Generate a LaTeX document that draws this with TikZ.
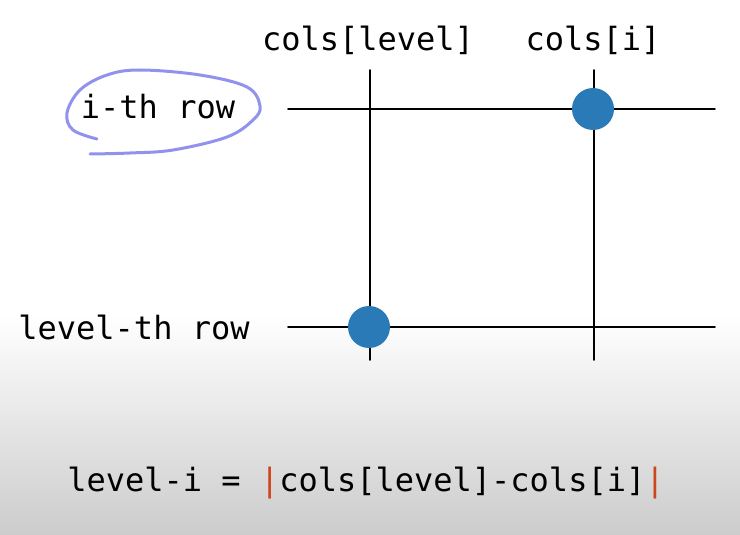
\documentclass[tikz,border=0pt]{standalone}
\usepackage{fontspec}
\setmonofont{DejaVu Sans Mono}
\usetikzlibrary{calc}
\definecolor{dotblue}{RGB}{43,122,184}
\definecolor{penblue}{RGB}{146,146,238}
\definecolor{barred}{RGB}{205,70,30}
\tikzset{
  lbl/.style={inner sep=0pt,font=\ttfamily\fontsize{32}{38}\selectfont},
  gridline/.style={draw=black,line width=1.7pt},
  hit/.style={circle,fill=dotblue,minimum size=42pt,inner sep=0pt},
  pen/.style={draw=penblue,line width=3pt}
}
\begin{document}
\begin{tikzpicture}[x=1pt,y=-1pt,line cap=round,line join=round]
  \useasboundingbox (0,0) rectangle (740,535);
  \fill[white] (0,0) rectangle (740,315);
  \shade[top color=white,bottom color=gray!40] (0,315) rectangle (740,535);
  % column and row labels
  \node[lbl] (colLevel) at (368,40) {cols[level]};
  \node[lbl] (colI) at (593,40) {cols[i]};
  \node[lbl] (rowI) at (158,107) {i-th row};
  \node[lbl] (rowLevel) at (134,327) {level-th row};
  % grid
  \coordinate (rowI-w) at (288,109);
  \coordinate (rowI-e) at (715,109);
  \coordinate (rowL-w) at (288,327);
  \coordinate (rowL-e) at (715,327);
  \coordinate (colL-n) at (370,70);
  \coordinate (colL-s) at (370,360);
  \coordinate (colI-n) at (594,70);
  \coordinate (colI-s) at (594,360);
  \draw[gridline] (rowI-w) -- (rowI-e);
  \draw[gridline] (rowL-w) -- (rowL-e);
  \draw[gridline] (colL-n) -- (colL-s);
  \draw[gridline] (colI-n) -- (colI-s);
  % queens
  \node[hit] (queenI) at (593,109) {};
  \node[hit] (queenLevel) at (369,327) {};
  % hand drawn loop round i-th row
  \draw[pen] plot[smooth,tension=0.6] coordinates {(90,154) (130,153) (173,150) (227,137) (253,120) (260,106) (247,87) (200,75) (140,70) (107,75) (80,90) (67,113) (73,130) (97,139)};
  % formula
  \node[lbl] (formula) at (366,483) {level-i = {\color{barred}|}cols[level]-cols[i]{\color{barred}|}};
\end{tikzpicture}
\end{document}
